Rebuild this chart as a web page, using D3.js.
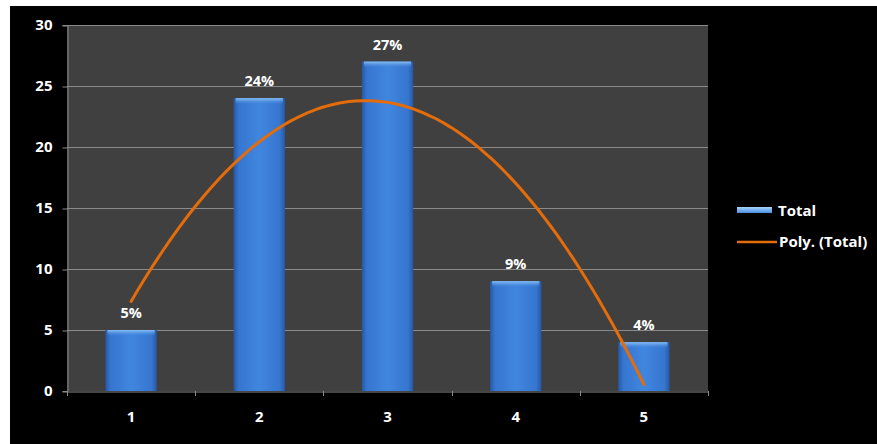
<!DOCTYPE html>
<html>
<head>
<meta charset="utf-8">
<script src="https://cdn.jsdelivr.net/npm/d3@7"></script>
<style>
  html, body { margin: 0; padding: 0; background: #ffffff; }
  svg { display: block; }
  text { font-family: "Open Sans", Lato, sans-serif; font-weight: bold; fill: #ffffff; }
</style>
</head>
<body>
<svg id="chart" width="877" height="444"></svg>
<script>
// Chart data
const categories = [1, 2, 3, 4, 5];
const totals = [5, 24, 27, 9, 4];
const pctLabels = ["5%", "24%", "27%", "9%", "4%"];
const yTicks = [0, 5, 10, 15, 20, 25, 30];
const seriesName = "Total";
const trendName = "Poly. (Total)";

const W = 877, H = 444;
const plot = { left: 67, right: 708, top: 25, bottom: 391 };
const FONT = "'Open Sans', Lato, sans-serif";

const svg = d3.select("#chart");

// Black chart background with thin white border at top/left
svg.append("rect").attr("x", 10).attr("y", 6).attr("width", W - 10).attr("height", H - 6).attr("fill", "#000");

const defs = svg.append("defs");
const barGrad = defs.append("linearGradient").attr("id", "barGrad").attr("x1", 0).attr("x2", 1).attr("y1", 0).attr("y2", 0);
[["0%", "#2558a8"], ["10%", "#3676cf"], ["50%", "#4086df"], ["90%", "#3676cf"], ["100%", "#2558a8"]]
  .forEach(([o, c]) => barGrad.append("stop").attr("offset", o).attr("stop-color", c));
const topGrad = defs.append("linearGradient").attr("id", "topGrad").attr("x1", 0).attr("x2", 0).attr("y1", 0).attr("y2", 1);
[["0%", "#8cc0f5", 1], ["100%", "#4a8ce2", 0]]
  .forEach(([o, c, a]) => topGrad.append("stop").attr("offset", o).attr("stop-color", c).attr("stop-opacity", a));
const legGrad = defs.append("linearGradient").attr("id", "legGrad").attr("x1", 0).attr("x2", 0).attr("y1", 0).attr("y2", 1);
[["0%", "#a8d4fb"], ["100%", "#4a8fe0"]]
  .forEach(([o, c]) => legGrad.append("stop").attr("offset", o).attr("stop-color", c));

// Scales
const x = d3.scaleBand().domain(categories).range([plot.left, plot.right]).paddingInner(0).paddingOuter(0);
const y = d3.scaleLinear().domain([0, 30]).range([plot.bottom, plot.top]);
const barW = x.bandwidth() * 0.4;
const cx = c => x(c) + x.bandwidth() / 2;
const xCont = d3.scaleLinear().domain([1, 5]).range([cx(1), cx(5)]);

// Plot area
svg.append("rect").attr("x", plot.left).attr("y", plot.top)
  .attr("width", plot.right - plot.left).attr("height", plot.bottom - plot.top).attr("fill", "#404040");

// Gridlines
svg.append("g").selectAll("line").data(yTicks.filter(t => t > 0)).join("line")
  .attr("x1", plot.left).attr("x2", plot.right)
  .attr("y1", d => y(d) + 0.5).attr("y2", d => y(d) + 0.5)
  .attr("stroke", "#8a8a8a").attr("stroke-width", 1);

// Y axis
const yAxis = svg.append("g").attr("transform", `translate(${plot.left + 0.5},0)`)
  .call(d3.axisLeft(y).tickValues(yTicks).tickSize(5).tickPadding(10));
yAxis.select(".domain").attr("stroke", "#8a8a8a");
yAxis.selectAll(".tick line").attr("stroke", "#8a8a8a").attr("transform", "translate(0,0.5)");
yAxis.selectAll(".tick text").attr("fill", "#fff").attr("font-size", 15)
  .attr("font-family", FONT).attr("font-weight", "bold");

// X axis with tick marks at category boundaries
const xAxis = svg.append("g").attr("transform", `translate(0,${plot.bottom + 0.5})`)
  .call(d3.axisBottom(x).tickSize(0).tickPadding(20));
xAxis.select(".domain").attr("stroke", "#8a8a8a");
xAxis.selectAll(".tick text").attr("fill", "#fff").attr("font-size", 15)
  .attr("font-family", FONT).attr("font-weight", "bold");
const bounds = categories.map(c => x(c)).concat([x(categories[categories.length - 1]) + x.bandwidth()]);
svg.append("g").selectAll("line").data(bounds).join("line")
  .attr("x1", d => Math.round(d) + 0.5).attr("x2", d => Math.round(d) + 0.5)
  .attr("y1", plot.bottom).attr("y2", plot.bottom + 5)
  .attr("stroke", "#8a8a8a");

// Bars
const bars = svg.append("g").selectAll("g").data(categories).join("g");
bars.append("rect")
  .attr("x", (d) => cx(d) - barW / 2).attr("width", barW)
  .attr("y", (d, i) => y(totals[i])).attr("height", (d, i) => y(0) - y(totals[i]))
  .attr("fill", "url(#barGrad)");
bars.append("rect")
  .attr("x", (d) => cx(d) - barW / 2 + 2).attr("width", barW - 4)
  .attr("y", (d, i) => y(totals[i])).attr("height", 6)
  .attr("fill", "url(#topGrad)");

// Polynomial (order 2) trendline via least squares
function polyFit2(xs, ys) {
  let s = [0, 0, 0, 0, 0], t = [0, 0, 0];
  xs.forEach((xv, i) => {
    for (let k = 0; k <= 4; k++) s[k] += Math.pow(xv, k);
    for (let k = 0; k <= 2; k++) t[k] += Math.pow(xv, k) * ys[i];
  });
  const A = [[s[0], s[1], s[2], t[0]], [s[1], s[2], s[3], t[1]], [s[2], s[3], s[4], t[2]]];
  for (let i = 0; i < 3; i++) {
    for (let j = i + 1; j < 3; j++) {
      const f = A[j][i] / A[i][i];
      for (let k = i; k < 4; k++) A[j][k] -= f * A[i][k];
    }
  }
  const c = [0, 0, 0];
  for (let i = 2; i >= 0; i--) {
    let v = A[i][3];
    for (let k = i + 1; k < 3; k++) v -= A[i][k] * c[k];
    c[i] = v / A[i][i];
  }
  return xv => c[0] + c[1] * xv + c[2] * xv * xv;
}
const fit = polyFit2(categories, totals);
const trendPts = d3.range(1, 5.0001, 0.05).map(v => [v, fit(v)]);
svg.append("path").datum(trendPts)
  .attr("d", d3.line().x(d => xCont(d[0])).y(d => y(d[1])).curve(d3.curveMonotoneX))
  .attr("fill", "none").attr("stroke", "#e46c0a").attr("stroke-width", 3).attr("stroke-linecap", "round");

// Data labels
svg.append("g").selectAll("text").data(categories).join("text")
  .attr("x", d => cx(d)).attr("y", (d, i) => y(totals[i]) - 12)
  .attr("text-anchor", "middle").attr("font-size", 14.5)
  .text((d, i) => pctLabels[i]);

// Legend
const lg = svg.append("g");
lg.append("rect").attr("x", 737).attr("y", 207).attr("width", 35).attr("height", 6).attr("fill", "url(#legGrad)");
lg.append("text").attr("x", 778).attr("y", 216).attr("font-size", 15).text(seriesName);
lg.append("line").attr("x1", 737).attr("x2", 777).attr("y1", 242).attr("y2", 242)
  .attr("stroke", "#e46c0a").attr("stroke-width", 2.5);
lg.append("text").attr("x", 779).attr("y", 247).attr("font-size", 15).text(trendName);
</script>
</body>
</html>
